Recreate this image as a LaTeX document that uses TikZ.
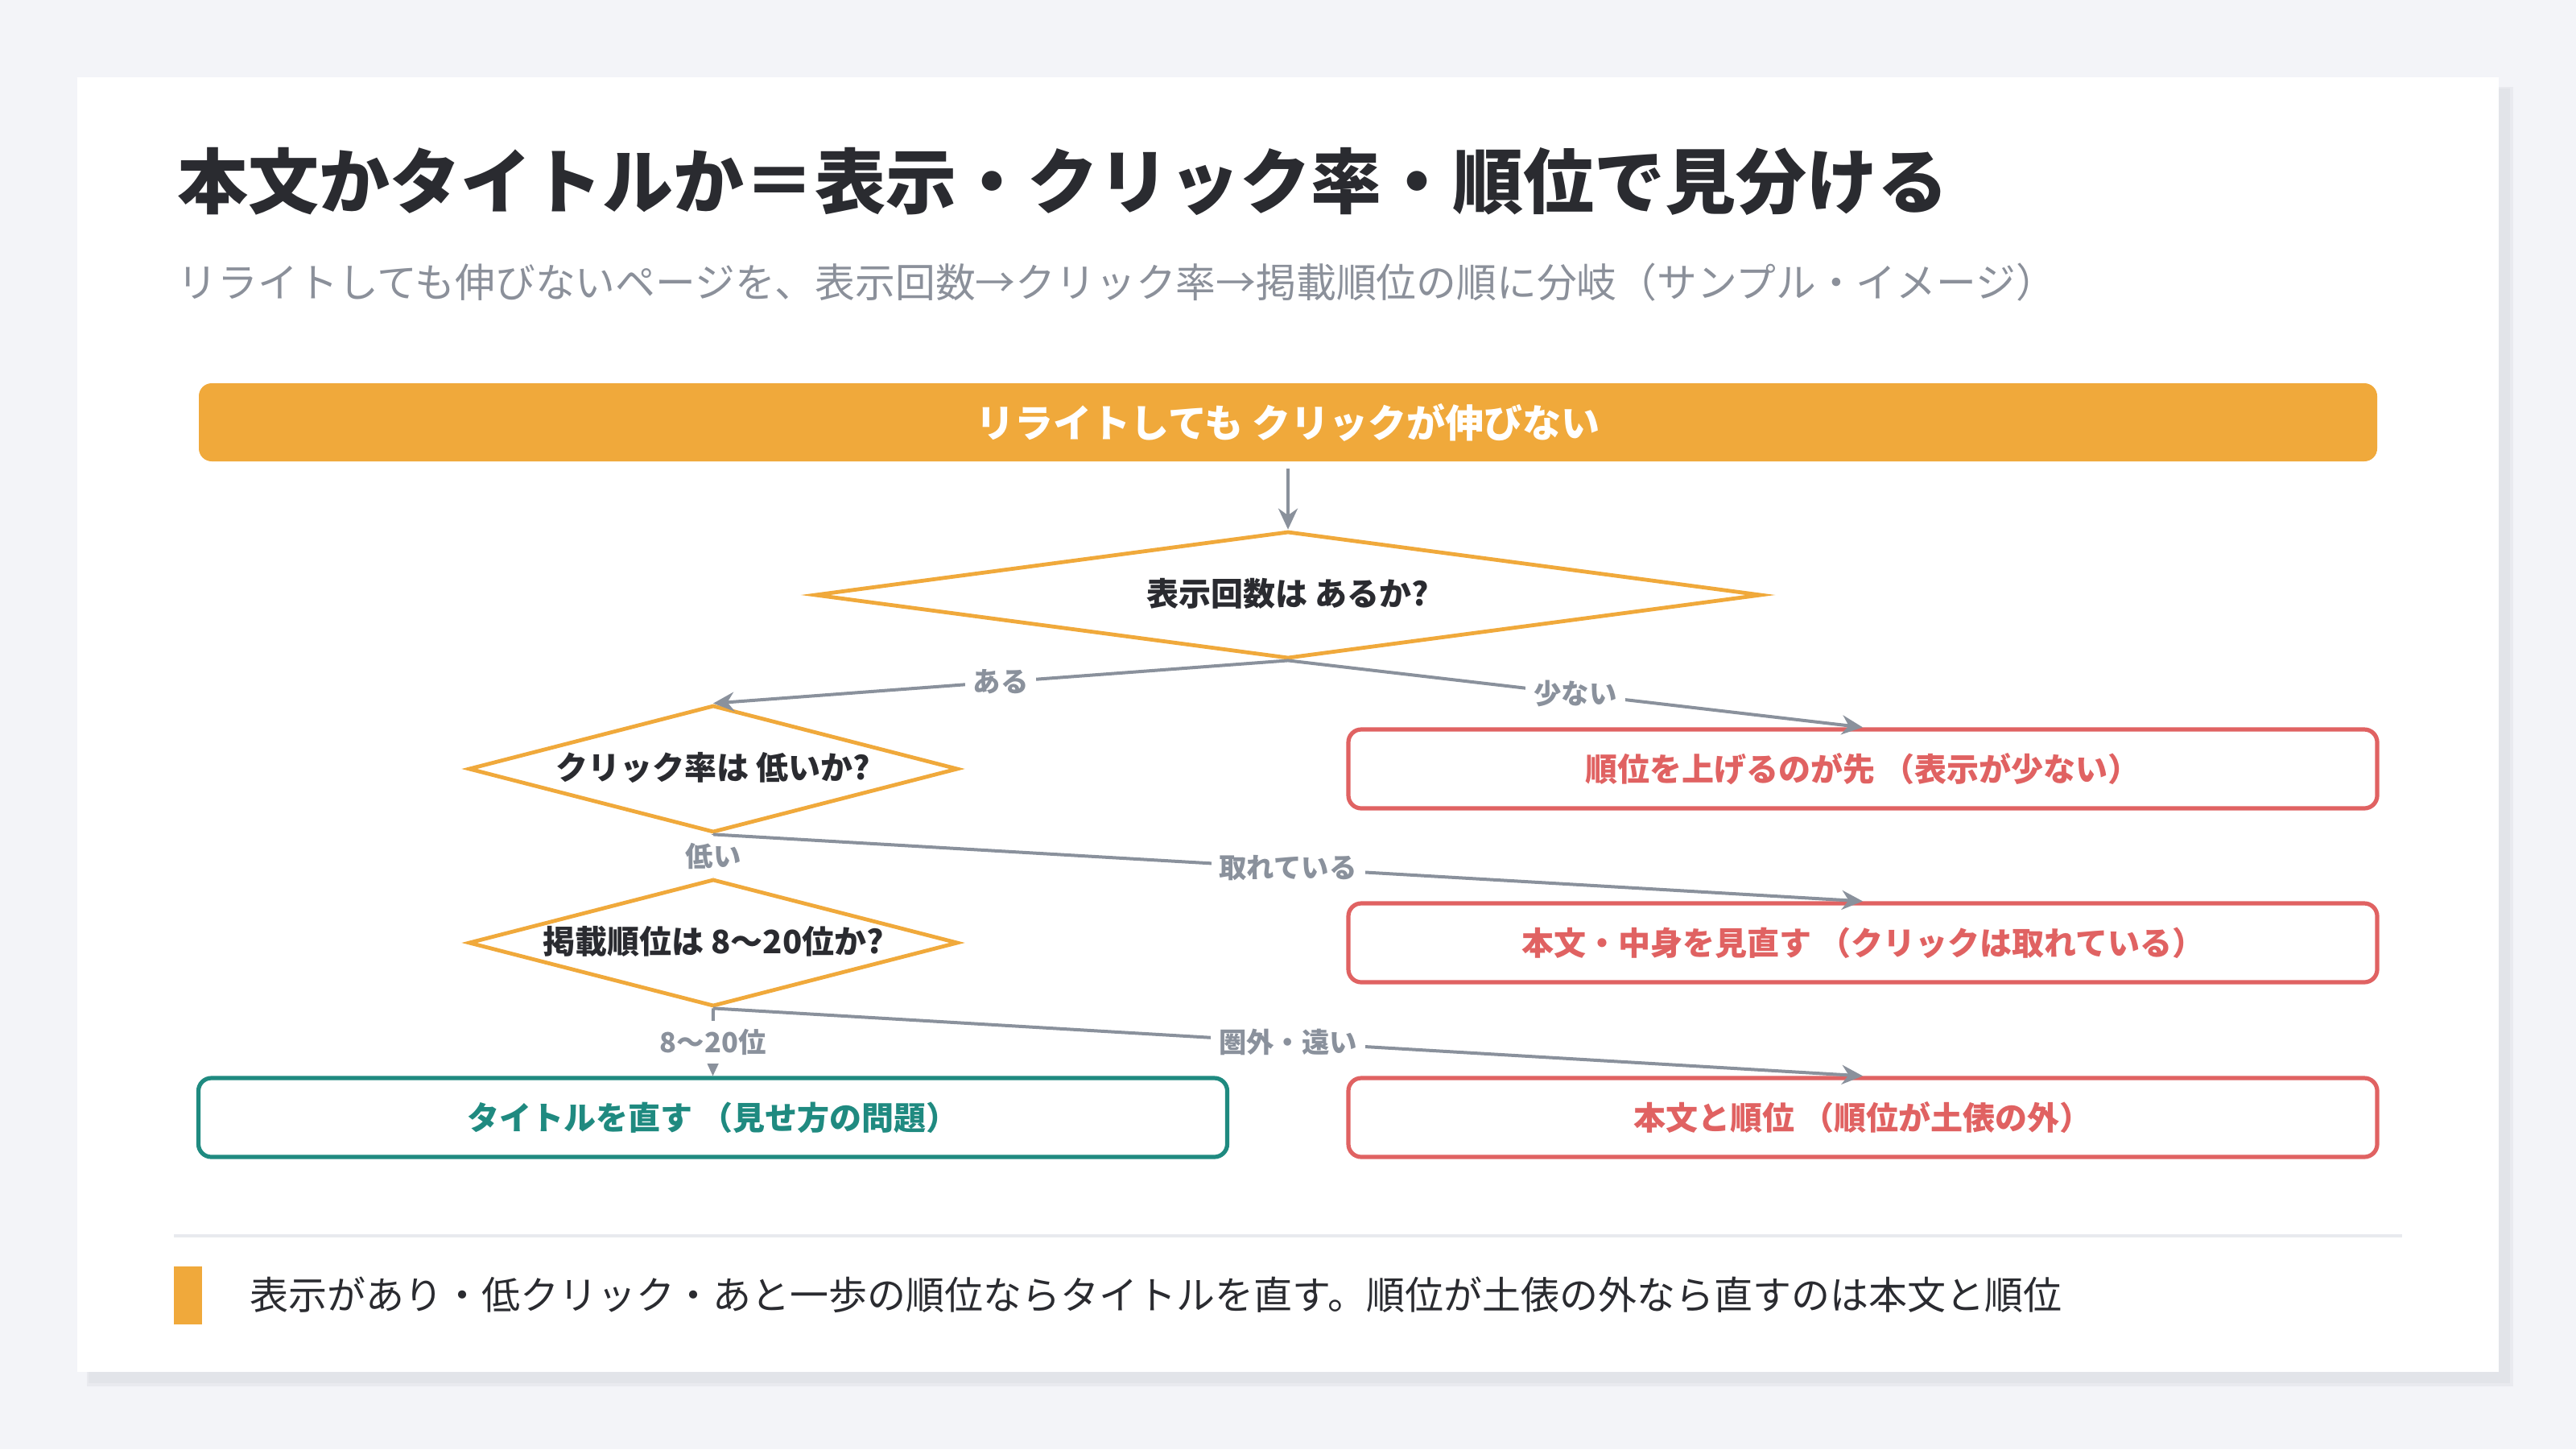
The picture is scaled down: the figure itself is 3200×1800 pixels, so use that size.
\documentclass[tikz,border=0pt]{standalone}
\usepackage{fontspec}
\setmainfont{Noto Sans CJK JP}
\usetikzlibrary{shapes.geometric,arrows.meta}
\definecolor{bgc}{HTML}{F3F4F8}
\definecolor{shc}{HTML}{E2E4E9}
\definecolor{orangec}{HTML}{F0A93B}
\definecolor{redc}{HTML}{E06262}
\definecolor{tealc}{HTML}{1F8A80}
\definecolor{grayc}{HTML}{8A919C}
\definecolor{darkc}{HTML}{2A2B30}
\definecolor{subc}{HTML}{8B909A}
\definecolor{sepc}{HTML}{E8EAEE}
\tikzset{
  titletext/.style={anchor=west,inner sep=0pt,text=darkc,font=\bfseries\fontsize{22pt}{26pt}\selectfont},
  subtext/.style={anchor=west,inner sep=0pt,text=subc,font=\fontsize{12.45pt}{15pt}\selectfont},
  foottext/.style={anchor=west,inner sep=0pt,text=darkc,font=\fontsize{12pt}{15pt}\selectfont},
  startbar/.style={rectangle,rounded corners=4pt,fill=orangec,text=white,minimum width=676.5pt,minimum height=24.25pt,font=\bfseries\fontsize{12pt}{14pt}\selectfont},
  decide/.style={diamond,draw=orangec,line width=1.2pt,fill=white,inner sep=0pt,text height=8pt,text depth=1.5pt,text=darkc,font=\bfseries\fontsize{10pt}{12pt}\selectfont},
  redbox/.style={rectangle,rounded corners=4pt,draw=redc,line width=1.3pt,fill=white,text=redc,minimum width=319.5pt,minimum height=24.5pt,font=\bfseries\fontsize{10pt}{12pt}\selectfont},
  tealbox/.style={redbox,draw=tealc,text=tealc},
  arr/.style={draw=grayc,line width=1pt,-{Stealth[length=6.5pt,width=6pt]}},
  elab/.style={fill=white,inner sep=2.5pt,text=grayc,font=\bfseries\fontsize{8.6pt}{10pt}\selectfont},
}
\begin{document}
\begin{tikzpicture}[x=0.25pt,y=-0.25pt]
\useasboundingbox (0,0) rectangle (3200,1800);
\fill[bgc] (0,0) rectangle (3200,1800);
\fill[shc!60!bgc] (108,108) rectangle (3122,1722);
\fill[shc] (110,110) rectangle (3118,1718);
\fill[white] (96,96) rectangle (3104,1704);

\node[titletext] (title) at (220,225) {本文かタイトルか＝表示・クリック率・順位で見分ける};
\node[subtext] (sub) at (220,351) {リライトしても伸びないページを、表示回数→クリック率→掲載順位の順に分岐（サンプル・イメージ）};

\node[startbar] (start) at (1600,524.5) {リライトしても クリックが伸びない};

\node[decide,aspect=7.47,minimum width=294pt,minimum height=39.5pt] (d1) at (1600,739) {表示回数は あるか?};
\node[decide,aspect=3.85,minimum width=152pt,minimum height=39.5pt] (d2) at (886,955) {クリック率は 低いか?};
\node[decide,aspect=3.85,minimum width=152pt,minimum height=39.5pt] (d3) at (886,1171) {掲載順位は 8〜20位か?};

\node[redbox] (r1) at (2314,955) {順位を上げるのが先 （表示が少ない）};
\node[redbox] (r2) at (2314,1171) {本文・中身を見直す （クリックは取れている）};
\node[redbox] (r3) at (2314,1388) {本文と順位 （順位が土俵の外）};
\node[tealbox] (t1) at (885.5,1388) {タイトルを直す （見せ方の問題）};

\draw[arr,shorten <=2pt] (start.south) -- (d1.north);
\draw[arr] (d1.south) -- node[elab]{ある} (d2.north);
\draw[arr] (d1.south) -- node[elab]{少ない} (r1.north);
\draw[arr] (d2.south) -- node[elab]{低い} (d3.north);
\draw[arr] (d2.south) -- node[elab]{取れている} (r2.north);
\draw[arr] (d3.south) -- node[elab]{8〜20位} (t1.north);
\draw[arr] (d3.south) -- node[elab]{圏外・遠い} (r3.north);

\draw[sepc,line width=1pt] (216,1535) -- (2984,1535);
\fill[orangec] (216,1573) rectangle (251,1645);
\node[foottext] (foot) at (310,1608) {表示があり・低クリック・あと一歩の順位ならタイトルを直す。順位が土俵の外なら直すのは本文と順位};
\end{tikzpicture}
\end{document}
